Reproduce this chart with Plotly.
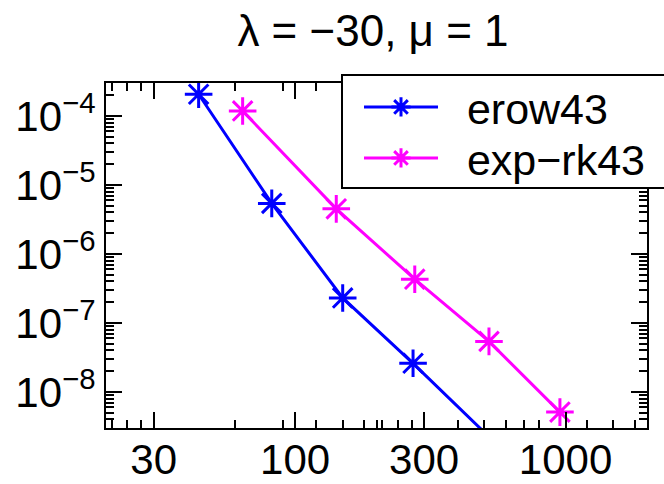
import plotly.graph_objects as go

# ---- data ----
erow_x = [44, 82, 150, 273, 560]
erow_y = [2.06e-4, 5.4e-6, 2.3e-7, 2.6e-8, 1.7e-9]
exprk_x = [64, 142, 277, 521, 953]
exprk_y = [1.18e-4, 4.5e-6, 4.3e-7, 5.4e-8, 5.1e-9]

x_tickvals = [30, 100, 300, 1000]
x_ticktext = ["30", "100", "300", "1000"]
x_minor = [21, 24, 27, 60, 90, 120, 150, 180, 200, 210, 240, 270,
           400, 500, 600, 700, 800, 1200, 1500, 1800]
y_tickvals = [1e-8, 1e-7, 1e-6, 1e-5, 1e-4]
y_ticktext = ["10<sup>\u22128</sup>", "10<sup>\u22127</sup>", "10<sup>\u22126</sup>",
              "10<sup>\u22125</sup>", "10<sup>\u22124</sup>"]
y_minor = [m * 10.0 ** e for e in range(-9, -3) for m in range(2, 10)]

names = ["erow43", "exp\u2212rk43"]
title_text = "\u03bb = \u221230, \u03bc = 1"

FONT = "Liberation Sans, Arial, Helvetica, sans-serif"
PAD = "\u00a0\u00a0"

# plot area in pixels
L, R, T, B = 106, 647, 83, 428
W, H = 664, 484


def px2paper_x(px):
    return (px - L) / (R - L)


def px2paper_y(py):
    return (B - py) / (B - T)


fig = go.Figure()
fig.add_trace(go.Scatter(
    x=erow_x, y=erow_y, name=PAD + names[0], mode="lines+markers", legend="legend",
    line=dict(color="rgb(0,0,255)", width=3),
    marker=dict(symbol="asterisk-open", size=23, color="rgb(0,0,255)",
                line=dict(color="rgb(0,0,255)", width=3)),
))
fig.add_trace(go.Scatter(
    x=exprk_x, y=exprk_y, name=PAD + names[1], mode="lines+markers", legend="legend2",
    line=dict(color="rgb(255,0,255)", width=3),
    marker=dict(symbol="asterisk-open", size=23, color="rgb(255,0,255)",
                line=dict(color="rgb(255,0,255)", width=3)),
))

leg_common = dict(xanchor="left", yanchor="middle", bgcolor="rgba(0,0,0,0)",
                  borderwidth=0, font=dict(size=43), itemwidth=74)

fig.update_layout(
    width=W, height=H,
    margin=dict(l=L, r=W - R, t=T, b=H - B, autoexpand=False),
    paper_bgcolor="white", plot_bgcolor="white",
    font=dict(family=FONT, size=42, color="black"),
    title=dict(text=title_text, x=373 / W, xanchor="center",
               y=1 - 31 / H, yanchor="middle", font=dict(size=44)),
    showlegend=True,
    legend=dict(x=px2paper_x(359), y=px2paper_y(107), **leg_common),
    legend2=dict(x=px2paper_x(359), y=px2paper_y(158), **leg_common),
    shapes=[dict(type="rect", xref="paper", yref="paper",
                 x0=px2paper_x(342), x1=px2paper_x(672),
                 y0=px2paper_y(188), y1=px2paper_y(75),
                 line=dict(color="black", width=2), fillcolor="white", layer="above")],
)

fig.update_xaxes(
    type="log", range=[1.30103, 3.30103],
    showline=True, linecolor="black", linewidth=2, mirror="ticks",
    ticks="inside", ticklen=16, tickwidth=1.5, tickcolor="black",
    tickmode="array", tickvals=x_tickvals, ticktext=x_ticktext,
    ticklabelstandoff=-6,
    minor=dict(tickmode="array", tickvals=x_minor, ticks="inside", ticklen=8,
               tickwidth=1.5, tickcolor="black", showgrid=False),
    showgrid=False, zeroline=False,
)
fig.update_yaxes(
    type="log", range=[-8.523, -3.523],
    showline=True, linecolor="black", linewidth=2, mirror="ticks",
    ticks="inside", ticklen=16, tickwidth=1.5, tickcolor="black",
    tickmode="array", tickvals=y_tickvals, ticktext=y_ticktext,
    minor=dict(tickmode="array", tickvals=y_minor, ticks="inside", ticklen=8,
               tickwidth=1.5, tickcolor="black", showgrid=False),
    showgrid=False, zeroline=False,
)

fig.write_html("out.html")
